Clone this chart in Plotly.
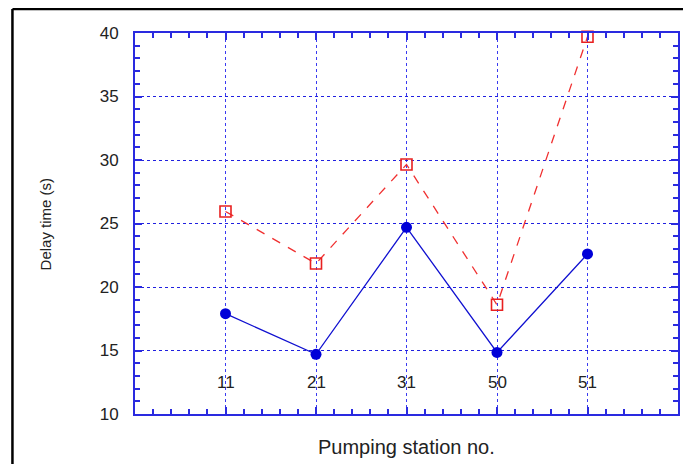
import plotly.graph_objects as go

stations = ["11", "21", "31", "50", "51"]
x_pos = [1, 2, 3, 4, 5]
delay_blue = [17.9, 14.7, 24.7, 14.85, 22.6]
delay_red = [25.95, 21.85, 29.65, 18.6, 39.7]
y_ticks = [10, 15, 20, 25, 30, 35, 40]
label_y = 12.45

fig = go.Figure()
fig.add_trace(go.Scatter(
    x=x_pos, y=delay_red, mode="lines+markers",
    line=dict(color="#f03030", width=1.3, dash="dash"),
    marker=dict(symbol="square-open", size=11, color="#e82020", line=dict(width=1.6)),
    showlegend=False, cliponaxis=False))
fig.add_trace(go.Scatter(
    x=x_pos, y=delay_blue, mode="lines+markers",
    line=dict(color="#1010d0", width=1.3),
    marker=dict(symbol="circle", size=11, color="#0000d8"),
    showlegend=False, cliponaxis=False))

# x tick labels drawn inside the plot area
for xv, lab in zip(x_pos, stations):
    fig.add_annotation(x=xv, y=label_y, text=lab, showarrow=False,
                       xanchor="center", yanchor="middle",
                       font=dict(size=17, color="#222222"))

axis_col = "#2a2ae0"
# page body has an 8px margin, so the figure is shrunk and margins shifted
fig.update_layout(
    width=683, height=456,
    margin=dict(l=127, r=11, t=25, b=50),
    paper_bgcolor="white", plot_bgcolor="white",
    font=dict(family="Liberation Sans, Arial, sans-serif", color="#222222"),
    xaxis=dict(
        range=[0, 6], tickmode="array", tickvals=x_pos, ticktext=stations,
        showticklabels=False,
        showline=True, linecolor=axis_col, linewidth=2, mirror="ticks",
        ticks="inside", ticklen=7, tickcolor=axis_col, tickwidth=2,
        showgrid=True, gridcolor="#3a3af0", griddash="dot", gridwidth=1,
        minor=dict(dtick=0.2, ticks="inside", ticklen=5, tickcolor=axis_col, tickwidth=2, showgrid=False),
        zeroline=False,
    ),
    yaxis=dict(
        range=[10, 40], tickmode="array", tickvals=y_ticks,
        showline=True, linecolor=axis_col, linewidth=2, mirror="ticks",
        ticks="inside", ticklen=7, tickcolor=axis_col, tickwidth=2,
        ticklabelstandoff=11,
        tickfont=dict(size=17, color="#222222"),
        showgrid=True, gridcolor="#2020e0", griddash="dot", gridwidth=1,
        minor=dict(dtick=1, ticks="inside", ticklen=5, tickcolor=axis_col, tickwidth=2, showgrid=False),
        zeroline=False,
    ),
)
fig.add_annotation(text="Pumping station no.", xref="paper", yref="paper",
                   x=0.5, y=-0.087, xanchor="center", yanchor="middle",
                   showarrow=False, font=dict(size=20, color="#222222"))
fig.add_annotation(text="Delay time (s)", xref="paper", yref="paper",
                   x=-0.164, y=0.5, xanchor="center", yanchor="middle", textangle=-90,
                   showarrow=False, font=dict(size=15, color="#222222"))
# outer frame (left and top edges)
fig.add_shape(type="line", xref="paper", yref="paper", x0=-0.2257, x1=-0.2257, y0=-0.2, y1=1.063,
              line=dict(color="black", width=2.5))
fig.add_shape(type="line", xref="paper", yref="paper", x0=-0.2257, x1=1.05, y0=1.063, y1=1.063,
              line=dict(color="black", width=2.5))

fig.write_html("out.html")
